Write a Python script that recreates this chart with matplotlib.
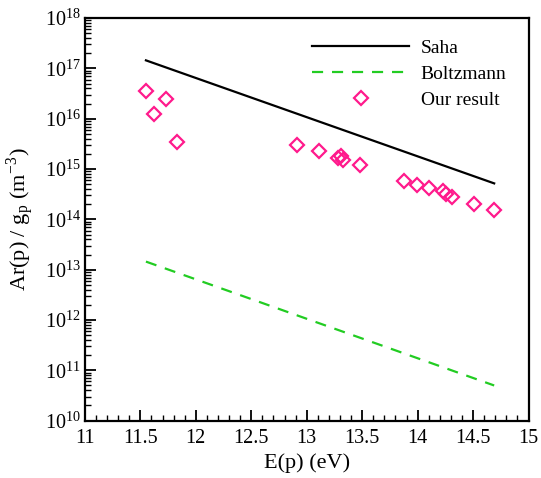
import matplotlib
matplotlib.use("Agg")
import matplotlib.pyplot as plt
from matplotlib.ticker import LogLocator, MultipleLocator, FixedLocator, NullFormatter

plt.rcParams['font.family'] = ['Liberation Serif', 'DejaVu Serif']
plt.rcParams['mathtext.fontset'] = 'stix'

saha_E = [11.55, 14.69]
saha_N = [1.45e17, 5.2e14]
boltz_E = [11.55, 14.69]
boltz_N = [1.45e13, 5.0e10]
our_E = [11.55, 11.62, 11.73, 11.83, 12.91, 13.11, 13.28, 13.31, 13.33, 13.48,
         13.88, 13.99, 14.10, 14.23, 14.26, 14.31, 14.51, 14.69]
our_N = [3.6e16, 1.25e16, 2.5e16, 3.5e15, 3.0e15, 2.3e15, 1.65e15, 1.8e15, 1.55e15, 1.2e15,
         5.8e14, 4.9e14, 4.2e14, 3.6e14, 3.2e14, 2.8e14, 2.05e14, 1.55e14]

x_ticks = [11, 11.5, 12, 12.5, 13, 13.5, 14, 14.5, 15]
x_ticklabels = ['11', '11.5', '12', '12.5', '13', '13.5', '14', '14.5', '15']

fig = plt.figure(figsize=(5.41, 4.78), dpi=100)
ax = fig.add_axes([0.157, 0.120, 0.820, 0.842])

ax.plot(saha_E, saha_N, color='black', lw=1.6, label='Saha')
ax.plot(boltz_E, boltz_N, color='#22cc22', lw=1.6, ls=(0, (5, 4)), label='Boltzmann')
ax.plot(our_E, our_N, ls='none', marker='D', ms=7.5, mfc='none', mec='#ff1a8c', mew=1.6,
        label='Our result')

ax.set_yscale('log')
ax.set_xlim(11, 15)
ax.set_ylim(1e10, 1e18)
ax.xaxis.set_major_locator(FixedLocator(x_ticks))
ax.set_xticklabels(x_ticklabels)
ax.xaxis.set_minor_locator(MultipleLocator(0.1))
ax.yaxis.set_major_locator(LogLocator(base=10, numticks=20))
ax.yaxis.set_minor_locator(LogLocator(base=10, subs=range(2, 10), numticks=100))
ax.yaxis.set_minor_formatter(NullFormatter())

ax.tick_params(which='major', direction='in', length=8, width=1.3, labelsize=14.5,
               top=False, right=False)
ax.tick_params(axis='x', which='major', pad=6)
ax.tick_params(axis='y', which='major', pad=3)
ax.tick_params(which='minor', direction='in', length=4, width=1.0, top=False, right=False)
for s in ax.spines.values():
    s.set_linewidth(1.6)

ax.set_xlabel('E(p) (eV)', fontsize=16, labelpad=4)
ax.set_ylabel(r'Ar(p) / g$_\mathregular{p}$ (m$^\mathregular{-3}$)', fontsize=16, labelpad=6)

ax.legend(loc='upper right', bbox_to_anchor=(0.99, 0.99), frameon=False, fontsize=14,
          numpoints=1, handlelength=5.0, handletextpad=0.6, labelspacing=0.42,
          borderaxespad=0.5)

fig.savefig('out.png', dpi=100)
